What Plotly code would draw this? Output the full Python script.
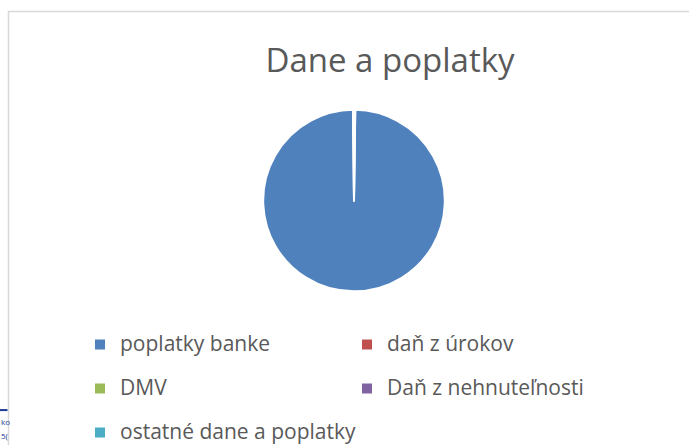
import plotly.graph_objects as go

W, H = 689, 445

categories = ["poplatky banke", "daň z úrokov", "DMV", "Daň z nehnuteľnosti", "ostatné dane a poplatky"]
values = [99.6, 0.1, 0.1, 0.1, 0.1]
colors = ["#4F81BD", "#C0504D", "#9BBB59", "#8064A2", "#4BACC6"]
title_text = "Dane a poplatky"

cx, cy, r = 354, 201, 91

# legend rows are 44px apart; extra (invisible) leading lines push the visible text
# to the lower part of each legend row, like in the reference
pad = "\u00a0<br>\u00a0<br>\u00a0<br>"
labels_html = [pad + "<span style='font-size:21px;baseline-shift:-4px'>%s</span>" % c for c in categories]

fig = go.Figure(go.Pie(
    labels=labels_html,
    values=values,
    sort=False,
    direction="clockwise",
    rotation=0.8,
    textinfo="none",
    hoverinfo="value",
    marker=dict(colors=colors, line=dict(color="white", width=2)),
    domain=dict(x=[(cx - r) / W, (cx + r) / W], y=[(H - cy - r) / H, (H - cy + r) / H]),
))

fig.update_layout(
    width=W, height=H,
    margin=dict(l=0, r=0, t=0, b=0),
    paper_bgcolor="white",
    font=dict(family="Open Sans, Liberation Sans, sans-serif", color="#595959"),
    title=dict(text=title_text, x=390 / W, xanchor="center", y=1 - 60 / H, yanchor="middle",
               font=dict(size=33, color="#595959")),
    showlegend=True,
    legend=dict(
        orientation="h",
        x=80 / W, xanchor="left",
        y=1 - 302.5 / H, yanchor="top",
        entrywidth=222,
        valign="bottom",
        font=dict(size=7.885, color="#595959"),
        bgcolor="rgba(0,0,0,0)",
        borderwidth=0,
    ),
    shapes=[
        dict(type="rect", xref="paper", yref="paper", x0=8.5 / W, x1=1.01, y0=-0.01, y1=1 - 11.5 / H,
             line=dict(color="#D9D9D9", width=1.5), fillcolor="rgba(0,0,0,0)", layer="below"),
        dict(type="line", xref="paper", yref="paper", x0=0, x1=7.5 / W, y0=1 - 411 / H, y1=1 - 411 / H,
             line=dict(color="#1F3A93", width=2)),
    ],
    annotations=[
        dict(text="ko", xref="paper", yref="paper", x=0, y=1 - 422 / H, xanchor="left", yanchor="middle",
             showarrow=False, font=dict(size=8, color="#1F3A93"), borderpad=0),
        dict(text="5(", xref="paper", yref="paper", x=0, y=1 - 436 / H, xanchor="left", yanchor="middle",
             showarrow=False, font=dict(size=8, color="#1F3A93"), borderpad=0),
    ],
)

fig.write_html("out.html")
